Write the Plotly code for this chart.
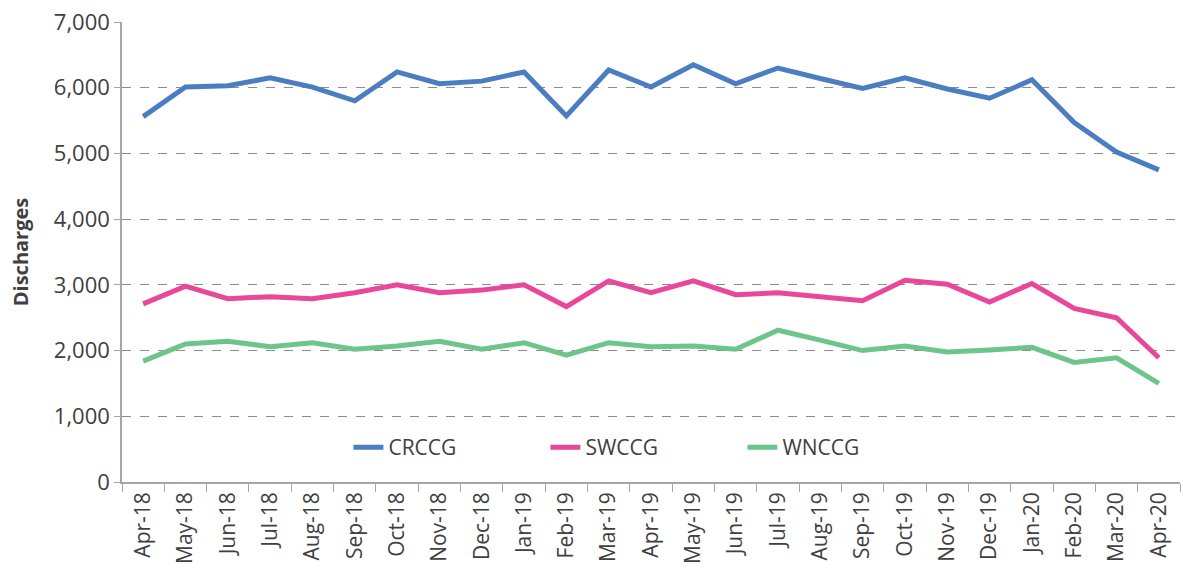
import plotly.graph_objects as go

months = ["Apr-18","May-18","Jun-18","Jul-18","Aug-18","Sep-18","Oct-18","Nov-18","Dec-18",
          "Jan-19","Feb-19","Mar-19","Apr-19","May-19","Jun-19","Jul-19","Aug-19","Sep-19",
          "Oct-19","Nov-19","Dec-19","Jan-20","Feb-20","Mar-20","Apr-20"]

crccg = [5560, 6010, 6030, 6150, 6010, 5800, 6240, 6060, 6100, 6240, 5570, 6270, 6010,
         6350, 6060, 6300, 6140, 5990, 6150, 5980, 5840, 6120, 5470, 5020, 4750]
swccg = [2710, 2980, 2790, 2820, 2790, 2880, 3000, 2880, 2920, 3000, 2670, 3060, 2880,
         3060, 2850, 2880, 2820, 2760, 3070, 3010, 2740, 3020, 2640, 2500, 1890]
wnccg = [1840, 2100, 2140, 2060, 2120, 2020, 2070, 2140, 2020, 2120, 1930, 2120, 2060,
         2070, 2020, 2310, 2160, 2000, 2070, 1980, 2010, 2050, 1820, 1890, 1500]

series = [("CRCCG", crccg, "#4A7EC1"), ("SWCCG", swccg, "#E8479A"), ("WNCCG", wnccg, "#6DC58C")]

fig = go.Figure()
for name, vals, col in series:
    fig.add_trace(go.Scatter(x=months, y=vals, name=name, mode="lines",
                             line=dict(color=col, width=5)))

font_fam = "Open Sans, Noto Sans, sans-serif"
fig.update_layout(
    width=1183, height=579,
    margin=dict(l=122, r=3, t=22, b=97, autoexpand=False),
    plot_bgcolor="white", paper_bgcolor="white",
    font=dict(family=font_fam, color="#595959", size=20),
    legend=dict(orientation="h", x=0.214, y=0.075, xanchor="left", yanchor="middle",
                font=dict(size=21, color="#404040"), entrywidth=152, bgcolor="rgba(0,0,0,0)"),
    xaxis=dict(type="category", range=[-0.5, 24.5], tickangle=-90, tickson="boundaries", ticks="outside",
               ticklen=8, tickcolor="#A6A6A6", showline=True, linecolor="#A6A6A6", linewidth=1.5,
               showgrid=False, tickfont=dict(size=21, color="#404040"), automargin=False),
    yaxis=dict(range=[0, 7000], dtick=1000, tickformat=",", showline=True, linecolor="#A6A6A6",
               linewidth=1.5, ticks="outside", ticklen=6, tickcolor="#A6A6A6",
               showgrid=True, gridcolor="#8C8C8C", griddash="dash", gridwidth=1.3,
               zeroline=False, tickfont=dict(size=22, color="#404040"), ticklabeloverflow="allow",
               automargin=False,
               title=dict(text="<b>Discharges</b>", font=dict(size=20, color="#404040"), standoff=20)),
)

fig.write_html("out.html", config={"displayModeBar": False},
               post_script="document.body.style.margin='0';document.body.style.overflow='hidden';")
